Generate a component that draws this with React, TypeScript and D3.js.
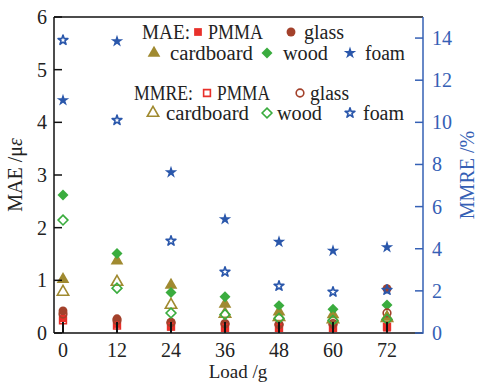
import React from "react";
import * as d3 from "d3";

const loads = [0, 12, 24, 36, 48, 60, 72];
const xTicks = [0, 12, 24, 36, 48, 60, 72];
const leftTicks = [0, 1, 2, 3, 4, 5, 6];
const rightTicks = [0, 2, 4, 6, 8, 10, 12, 14];
const materials = ["PMMA", "glass", "cardboard", "wood", "foam"];

const maePMMA = [0.28, 0.17, 0.12, 0.1, 0.1, 0.1, 0.1];
const maeGlass = [0.42, 0.27, 0.2, 0.17, 0.16, 0.16, 0.84];
const maeCardboard = [1.02, 1.37, 0.91, 0.55, 0.4, 0.35, 0.3];
const maeWood = [2.62, 1.51, 0.77, 0.69, 0.52, 0.45, 0.53];
const maeFoam = [4.42, 5.54, 3.05, 2.16, 1.73, 1.56, 1.63];

const mmrePMMA = [0.6, 0.35, 0.3, 0.25, 0.25, 0.25, 0.3];
const mmreGlass = [0.9, 0.6, 0.5, 0.45, 0.4, 0.45, 0.95];
const mmreCardboard = [1.95, 2.42, 1.33, 0.9, 0.75, 0.65, 0.7];
const mmreWood = [5.36, 2.13, 0.95, 0.88, 0.7, 0.6, 0.65];
const mmreFoam = [13.9, 10.1, 4.37, 2.9, 2.23, 1.95, 2.04];

const colors: Record<string, string> = {
  PMMA: "#e8302a",
  glass: "#a3412b",
  cardboard: "#a08a30",
  wood: "#3aac3e",
  foam: "#2a57ab",
};

const diamondType: d3.SymbolType = {
  draw(ctx: any, size: number) {
    const r = Math.sqrt(size / 2);
    ctx.moveTo(0, -r);
    ctx.lineTo(r, 0);
    ctx.lineTo(0, r);
    ctx.lineTo(-r, 0);
    ctx.closePath();
  },
};

// [type, filled size, hollow size]
const symbols: Record<string, [d3.SymbolType, number, number]> = {
  PMMA: [d3.symbolSquare, 60, 46],
  glass: [d3.symbolCircle, 62, 46],
  cardboard: [d3.symbolTriangle, 70, 56],
  wood: [diamondType, 60, 48],
  foam: [d3.symbolStar, 48, 30],
};

const maeData = [maePMMA, maeGlass, maeCardboard, maeWood, maeFoam];
const mmreData = [mmrePMMA, mmreGlass, mmreCardboard, mmreWood, mmreFoam];

const L = 54, R = 423, T = 17, B = 333;
const FONT = "'Liberation Serif', 'DejaVu Serif', serif";
const BLUE = "#3560b5";

function Marker({ m, x, y, filled }: { m: string; x: number; y: number; filled: boolean }) {
  const [type, size, hsize] = symbols[m];
  const d = d3.symbol().type(type).size(filled ? size : hsize)() || "";
  return (
    <path
      d={d}
      transform={`translate(${x},${y})`}
      fill={filled ? colors[m] : "none"}
      stroke={colors[m]}
      strokeWidth={filled ? 0 : 1.6}
      strokeLinejoin={m === "foam" ? "round" : "miter"}
    />
  );
}

export default function App() {
  const x = d3.scaleLinear().domain([-2, 80]).range([L, R]);
  const yL = d3.scaleLinear().domain([0, 6]).range([B, T]);
  const yR = d3.scaleLinear().domain([0, 15]).range([B, T]);

  const legendRow = (
    label: [string, number, number] | null,
    items: { m: string; mx: number; tx: number; w: number }[],
    y: number,
    filled: boolean
  ) => (
    <g>
      {label && (
        <text
          x={label[1]}
          y={y + 7}
          fontSize={20}
          fontFamily={FONT}
          fill="#222"
          textLength={label[2]}
          lengthAdjust="spacingAndGlyphs"
        >
          {label[0]}
        </text>
      )}
      {items.map((it) => (
        <g key={it.m}>
          <Marker m={it.m} x={it.mx} y={y} filled={filled} />
          <text
            x={it.tx}
            y={y + 7}
            fontSize={20}
            fontFamily={FONT}
            fill="#222"
            textLength={it.w}
            lengthAdjust="spacingAndGlyphs"
          >
            {it.m}
          </text>
        </g>
      ))}
    </g>
  );

  return (
    <svg width={477} height={383} style={{ position: "absolute", left: 0, top: 0, background: "#fff" }}>
      {/* markers */}
      {maeData.map((vals, i) =>
        vals.map((v, j) => (
          <Marker key={`mae-${i}-${j}`} m={materials[i]} x={x(loads[j])} y={yL(v)} filled={true} />
        ))
      )}
      {mmreData.map((vals, i) =>
        vals.map((v, j) => (
          <Marker key={`mmre-${i}-${j}`} m={materials[i]} x={x(loads[j])} y={yR(v)} filled={false} />
        ))
      )}

      {/* frame */}
      <line x1={L} x2={R} y1={T} y2={T} stroke="#111" strokeWidth={1.5} />
      <line x1={L} x2={L} y1={T} y2={B} stroke="#111" strokeWidth={1.5} />
      <line x1={L} x2={R} y1={B} y2={B} stroke="#111" strokeWidth={1.5} />
      <line x1={R} x2={R} y1={T} y2={B + 0.75} stroke={BLUE} strokeWidth={1.5} />

      {/* left ticks */}
      {leftTicks.map((t) => (
        <g key={`lt${t}`}>
          <line x1={L} x2={L + 8} y1={yL(t)} y2={yL(t)} stroke="#111" strokeWidth={1.5} />
          <text x={L - 7} y={yL(t) + 7} textAnchor="end" fontSize={20} fontFamily={FONT} fill="#222">
            {t}
          </text>
        </g>
      ))}
      {/* right ticks */}
      {rightTicks.map((t) => (
        <g key={`rt${t}`}>
          <line x1={R - 8} x2={R} y1={yR(t)} y2={yR(t)} stroke={BLUE} strokeWidth={1.5} />
          <text x={R + 9} y={yR(t) + 7} textAnchor="start" fontSize={20} fontFamily={FONT} fill={BLUE}>
            {t}
          </text>
        </g>
      ))}
      {/* bottom ticks */}
      {xTicks.map((t) => (
        <g key={`xt${t}`}>
          <line x1={x(t)} x2={x(t)} y1={B} y2={B - 11} stroke="#111" strokeWidth={2} />
          <text x={x(t)} y={357} textAnchor="middle" fontSize={20} fontFamily={FONT} fill="#222">
            {t}
          </text>
        </g>
      ))}

      {/* axis titles */}
      <text x={238} y={378} textAnchor="middle" fontSize={19} fontFamily={FONT} fill="#222">
        Load /g
      </text>
      <text
        transform={`translate(22,${(T + B) / 2}) rotate(-90)`}
        textAnchor="middle"
        fontSize={20}
        fontFamily={FONT}
        fill="#222"
      >
        MAE /μ<tspan fontStyle="italic">ε</tspan>
      </text>
      <text
        transform={`translate(474,${(T + B) / 2}) rotate(-90)`}
        textAnchor="middle"
        fontSize={20}
        fontFamily={FONT}
        fill={BLUE}
      >
        MMRE /%
      </text>

      {/* legend */}
      {legendRow(
        ["MAE:", 142, 48],
        [
          { m: "PMMA", mx: 198, tx: 208, w: 55 },
          { m: "glass", mx: 291, tx: 304, w: 40 },
        ],
        32,
        true
      )}
      {legendRow(
        null,
        [
          { m: "cardboard", mx: 154, tx: 170, w: 83 },
          { m: "wood", mx: 267, tx: 283, w: 45 },
          { m: "foam", mx: 350, tx: 365, w: 40 },
        ],
        53,
        true
      )}
      {legendRow(
        ["MMRE:", 134, 59],
        [
          { m: "PMMA", mx: 207, tx: 217, w: 53 },
          { m: "glass", mx: 300, tx: 310, w: 39 },
        ],
        93,
        false
      )}
      {legendRow(
        null,
        [
          { m: "cardboard", mx: 153, tx: 166, w: 83 },
          { m: "wood", mx: 267, tx: 277, w: 45 },
          { m: "foam", mx: 350, tx: 363, w: 41 },
        ],
        113,
        false
      )}
    </svg>
  );
}
